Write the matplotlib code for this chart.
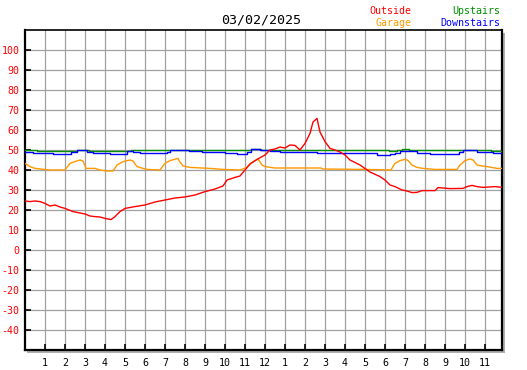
import matplotlib
matplotlib.use("Agg")
import matplotlib.pyplot as plt
from matplotlib.patches import Rectangle

# ---- data ----
title_text = "03/02/2025"
x_tick_hours = list(range(1, 24))
x_tick_labels = [str(i) for i in range(1, 13)] + [str(i) for i in range(1, 12)]
y_ticks = list(range(-40, 101, 10))

outside_h = [0, 0.25, 0.5, 0.75, 1.0, 1.25, 1.5, 1.75, 2.0, 2.4,
             3.0, 3.25, 3.5, 3.75, 4.0, 4.3, 4.5, 4.75, 5.0, 5.5,
             6.0, 6.5, 7.0, 7.5, 8.0, 8.5, 9.0, 9.5, 9.9, 10.1,
             10.5, 10.75, 11.0, 11.25, 11.6, 12.0, 12.25, 12.5, 12.75, 13.0,
             13.25, 13.5, 13.75, 14.0, 14.25, 14.4, 14.6, 14.75, 15.0, 15.25,
             15.5, 15.75, 16.0, 16.25, 16.75, 17.25, 17.75, 18.0, 18.25, 18.5,
             18.85, 19.1, 19.35, 19.6, 19.85, 20.5, 20.65, 21.25, 21.9, 22.1,
             22.35, 22.6, 22.9, 23.5, 23.85]
outside_t = [24.5, 24.2, 24.5, 24.2, 23.3, 22.0, 22.5, 21.5, 20.8, 19.2,
             18.0, 17.0, 16.7, 16.5, 15.8, 15.2, 16.7, 19.2, 20.8, 21.7,
             22.5, 24.0, 25.0, 26.0, 26.5, 27.5, 29.2, 30.5, 32.0, 35.0,
             36.3, 37.0, 40.0, 43.0, 45.3, 47.5, 50.0, 50.5, 51.5, 51.0,
             52.5, 52.3, 50.0, 53.3, 58.3, 64.0, 65.8, 59.0, 54.2, 50.8,
             50.0, 49.0, 47.5, 45.0, 42.5, 39.0, 36.7, 35.0, 32.5, 31.7,
             30.0, 29.5, 28.7, 28.8, 29.7, 29.7, 31.2, 30.7, 30.8, 31.7,
             32.3, 31.7, 31.3, 31.7, 31.3]

garage_h = [0, 0.25, 0.5, 1.25, 2.0, 2.25, 2.5, 2.75, 2.9, 3.05,
            3.5, 3.75, 4.1, 4.4, 4.6, 4.9, 5.25, 5.4, 5.6, 5.9,
            6.1, 6.75, 7.0, 7.25, 7.65, 7.75, 7.9, 8.25, 9.25, 9.9,
            10.75, 11.1, 11.3, 11.65, 11.85, 12.0, 12.5, 14.8, 14.9, 17.0,
            18.3, 18.4, 18.5, 18.75, 19.0, 19.15, 19.35, 19.6, 19.9, 20.5,
            21.6, 21.75, 22.0, 22.25, 22.4, 22.6, 22.85, 23.1, 23.6, 23.85]
garage_t = [43.3, 41.7, 40.8, 40.0, 40.0, 43.3, 44.2, 45.0, 44.5, 40.8,
            40.8, 40.0, 39.5, 39.5, 42.5, 44.2, 45.0, 44.5, 41.7, 40.8,
            40.3, 40.0, 43.3, 44.7, 45.8, 44.0, 42.0, 41.3, 40.8, 40.3,
            40.0, 41.3, 43.5, 45.5, 42.5, 41.7, 41.0, 41.0, 40.5, 40.3,
            40.0, 41.7, 43.3, 44.7, 45.3, 44.8, 42.5, 41.3, 40.8, 40.3,
            40.3, 42.5, 44.7, 45.5, 45.0, 42.5, 42.0, 41.7, 40.8, 40.8]

upstairs_h = [0, 0.6, 2.6, 3.2, 5.3, 7.2, 11.3, 11.8, 15.4, 18.2,
              18.6, 18.85, 19.2, 21.8, 23.3, 23.85]
upstairs_t = [50.0, 49.7, 50.0, 49.7, 49.8, 49.8, 50.3, 49.8, 49.8, 49.5,
              49.8, 50.3, 49.8, 49.8, 49.5, 49.5]

downstairs_h = [0, 0.4, 1.4, 2.3, 2.6, 3.1, 3.4, 4.25, 5.1, 5.4,
                5.75, 6.4, 7.1, 7.25, 8.2, 8.85, 10.0, 10.6, 11.1, 11.3,
                11.75, 12.25, 12.75, 14.6, 17.6, 18.25, 18.5, 18.75, 19.6, 20.25,
                21.7, 21.9, 22.6, 23.4, 23.85]
downstairs_t = [49.2, 48.7, 47.8, 49.2, 50.0, 49.2, 48.7, 47.8, 49.5, 49.0,
                48.7, 48.3, 49.2, 50.0, 49.5, 48.8, 48.3, 48.0, 49.2, 50.3,
                50.0, 49.5, 48.8, 48.3, 47.3, 48.0, 48.7, 49.3, 48.3, 47.8,
                48.8, 49.8, 48.8, 48.3, 48.3]

# ---- figure ----
W, H = 527, 370
fig = plt.figure(figsize=(W / 100, H / 100), dpi=100)
fig.patch.set_facecolor("white")

L, R, T, B = 25, 502, 30, 350
ax = fig.add_axes([L / W, 1 - B / H, (R - L) / W, (B - T) / H])

# shadow
shadow = Rectangle(((L + 2) / W, 1 - (B + 2.5) / H), (R - L + 0.5) / W, (B - T) / H,
                   transform=fig.transFigure, facecolor="#b0b0b0",
                   edgecolor="none", zorder=0)
fig.patches.append(shadow)

mono = "DejaVu Sans Mono"
ax.set_xlim(0, 23.85)
ax.set_ylim(-50, 110)

for hgrid in range(1, 24):
    ax.axvline(hgrid, color="#a0a0a0", lw=0.9, zorder=1)
for v in range(-40, 101, 10):
    ax.axhline(v, color="#a0a0a0", lw=0.9, zorder=1)

lw = 1.0
ax.plot(garage_h, garage_t, color="#ff9900", lw=lw, zorder=3)
ax.plot(upstairs_h, upstairs_t, color="#008f00", lw=lw, zorder=3,
        drawstyle="steps-post")
ax.plot(downstairs_h, downstairs_t, color="#0000ff", lw=lw, zorder=4,
        drawstyle="steps-post")
ax.plot(outside_h, outside_t, color="#ff0000", lw=lw, zorder=5)

ax.set_xticks(x_tick_hours)
ax.set_xticklabels(x_tick_labels, fontfamily=mono, fontsize=7.2, color="black")
ax.set_yticks(y_ticks)
ax.set_yticklabels([str(v) for v in y_ticks], fontfamily=mono, fontsize=7.2,
                   color="#ff0000")
ax.tick_params(axis="x", direction="in", length=4, width=1.2, pad=6,
               colors="black")
ax.tick_params(axis="y", direction="in", length=4, width=1.2, pad=4,
               colors="black", labelcolor="#ff0000")
for lab in ax.get_xticklabels():
    lab.set_color("black")

for side in ["left", "bottom", "right"]:
    ax.spines[side].set_linewidth(1.6)
    ax.spines[side].set_color("black")
ax.spines["top"].set_linewidth(1.2)
ax.spines["top"].set_color("black")
ax.set_zorder(2)

fig.text(261 / W, 1 - 20 / H, title_text, ha="center", va="center",
         fontfamily=mono, fontsize=9.6, color="black")
fig.text(411 / W, 1 - 11 / H, "Outside", ha="right", va="center",
         fontfamily=mono, fontsize=7.2, color="#ff0000")
fig.text(411 / W, 1 - 23 / H, "Garage", ha="right", va="center",
         fontfamily=mono, fontsize=7.2, color="#ff9900")
fig.text(500 / W, 1 - 11 / H, "Upstairs", ha="right", va="center",
         fontfamily=mono, fontsize=7.2, color="#008f00")
fig.text(500 / W, 1 - 23 / H, "Downstairs", ha="right", va="center",
         fontfamily=mono, fontsize=7.2, color="#0000ff")

fig.savefig("out.png", dpi=100, facecolor="white")
